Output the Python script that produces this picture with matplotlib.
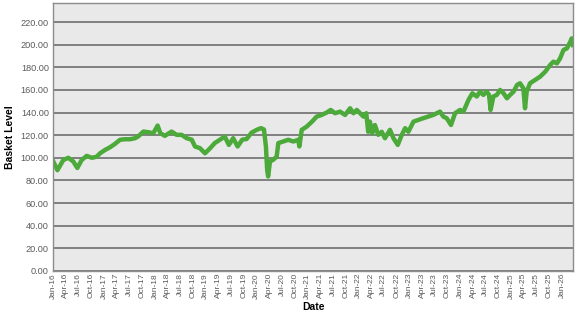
import pandas as pd
import matplotlib
matplotlib.use("Agg")
import matplotlib.pyplot as plt
import matplotlib.dates as mdates

# Basket level
dates = [
    "2016-01-03", "2016-02-01", "2016-03-14", "2016-04-19", "2016-05-25", "2016-06-23",
    "2016-07-24", "2016-08-29", "2016-10-05", "2016-11-10", "2016-12-03", "2017-01-09",
    "2017-02-14", "2017-03-19", "2017-04-25", "2017-05-30", "2017-07-06", "2017-08-11",
    "2017-09-04", "2017-10-10", "2017-11-15", "2017-12-20", "2018-01-20", "2018-02-08",
    "2018-03-13", "2018-04-30", "2018-06-05", "2018-07-11", "2018-08-17", "2018-09-22",
    "2018-10-15", "2018-11-20", "2018-12-26", "2019-02-01", "2019-03-06", "2019-04-12",
    "2019-05-17", "2019-06-15", "2019-07-16", "2019-08-17", "2019-09-19", "2019-10-20",
    "2019-11-26", "2020-01-01", "2020-02-01", "2020-02-22", "2020-03-07", "2020-03-16",
    "2020-03-23", "2020-04-05", "2020-04-28", "2020-05-23", "2020-06-04", "2020-07-09",
    "2020-08-14", "2020-09-20", "2020-10-25", "2020-11-02", "2020-11-19", "2020-12-25",
    "2021-02-01", "2021-03-06", "2021-04-11", "2021-05-17", "2021-06-15", "2021-07-16",
    "2021-08-21", "2021-09-26", "2021-11-01", "2021-11-25", "2021-12-19", "2022-01-12",
    "2022-02-05", "2022-02-25", "2022-03-11", "2022-03-23", "2022-04-09", "2022-04-28",
    "2022-05-22", "2022-06-16", "2022-07-09", "2022-08-14", "2022-09-08", "2022-10-09",
    "2022-11-07", "2022-12-01", "2022-12-24", "2023-01-30", "2023-03-05", "2023-04-10",
    "2023-05-16", "2023-06-21", "2023-07-15", "2023-08-08", "2023-09-01", "2023-09-25",
    "2023-10-26", "2023-11-24", "2023-12-30", "2024-01-23", "2024-02-28", "2024-03-27",
    "2024-04-28", "2024-05-21", "2024-06-14", "2024-07-08", "2024-07-25", "2024-08-05",
    "2024-08-25", "2024-09-19", "2024-10-12", "2024-11-06", "2024-11-30", "2024-12-23",
    "2025-01-17", "2025-02-11", "2025-03-04", "2025-03-28", "2025-04-09", "2025-04-21",
    "2025-05-15", "2025-06-20", "2025-07-26", "2025-09-01", "2025-10-06", "2025-10-30",
    "2025-11-24", "2025-12-17", "2026-01-10", "2026-02-04", "2026-02-28", "2026-03-10",
    "2026-03-19",
]
levels = [
    96.7, 89.0, 98.0, 100.0, 96.7, 91.0,
    98.0, 101.7, 100.0, 101.0, 104.0, 107.0,
    109.4, 112.2, 115.9, 116.4, 116.4, 117.3,
    119.0, 123.2, 122.6, 121.7, 128.5, 121.8,
    119.4, 123.2, 120.3, 120.3, 117.3, 116.0,
    110.0, 108.5, 104.0, 108.5, 113.0, 116.0,
    118.8, 111.4, 117.3, 110.0, 116.0, 116.6,
    122.3, 124.7, 126.2, 125.0, 110.0, 89.4,
    83.5, 96.7, 98.2, 101.0, 113.0, 114.4,
    115.9, 114.4, 115.9, 110.0, 124.7, 127.6,
    132.0, 136.4, 137.9, 140.0, 142.3, 139.4,
    140.8, 137.9, 143.8, 139.4, 142.3, 139.4,
    136.4, 139.4, 123.0, 132.0, 121.8, 129.0,
    120.3, 123.0, 117.3, 124.7, 117.3, 111.4,
    120.3, 126.2, 123.0, 132.0, 133.5, 135.0,
    136.4, 137.9, 139.4, 140.8, 136.4, 135.0,
    129.0, 139.4, 142.3, 140.8, 151.1, 157.0,
    154.2, 158.5, 155.6, 158.5, 155.6, 142.3,
    154.2, 155.6, 160.0, 157.0, 152.6, 155.6,
    158.5, 164.4, 165.9, 161.5, 143.8, 158.5,
    165.9, 168.8, 171.7, 176.1, 182.0, 185.0,
    183.5, 188.0, 195.3, 196.8, 202.6, 205.6,
    199.7,
]
y_ticks = [0, 20, 40, 60, 80, 100, 120, 140, 160, 180, 200, 220]
x_start, x_end = "2016-01-01", "2026-03-19"

dates = pd.to_datetime(dates)

plt.rcParams['font.family'] = ['Liberation Sans', 'DejaVu Sans']

fig = plt.figure(figsize=(5.77, 3.15), dpi=100)
ax = fig.add_axes([0.092, 0.14, 0.901, 0.851])
ax.set_facecolor('#e9e9e9')

ax.plot(dates, levels, color='#4caa3a', linewidth=3.2, solid_joinstyle='round')

# Axes and grid
ax.set_ylim(0, 237)
ax.set_yticks(y_ticks)
ax.set_yticklabels([f"{v:.2f}" for v in y_ticks])
ax.yaxis.grid(True, color='#6e6e6e', linewidth=1.2)
ax.set_axisbelow(True)
ax.set_xlim(pd.Timestamp(x_start), pd.Timestamp(x_end))
ax.xaxis.set_major_locator(mdates.MonthLocator(bymonth=[1, 4, 7, 10]))
ax.xaxis.set_major_formatter(mdates.DateFormatter('%b-%y'))
for lbl in ax.get_xticklabels():
    lbl.set_rotation(90)
ax.tick_params(axis='y', length=0, labelsize=6.6, colors='#5a5a5a', pad=3)
ax.tick_params(axis='x', length=0, labelsize=6.0, colors='#5a5a5a', pad=1.5)
for s in ax.spines.values():
    s.set_color('#8c8c8c')
    s.set_linewidth(1.0)

ax.set_ylabel('Basket Level', fontsize=7.5, fontweight='bold', labelpad=4)
ax.set_xlabel('Date', fontsize=7.5, fontweight='bold')
ax.xaxis.set_label_coords(0.5, -0.115)

plt.savefig('out.png', dpi=100)
